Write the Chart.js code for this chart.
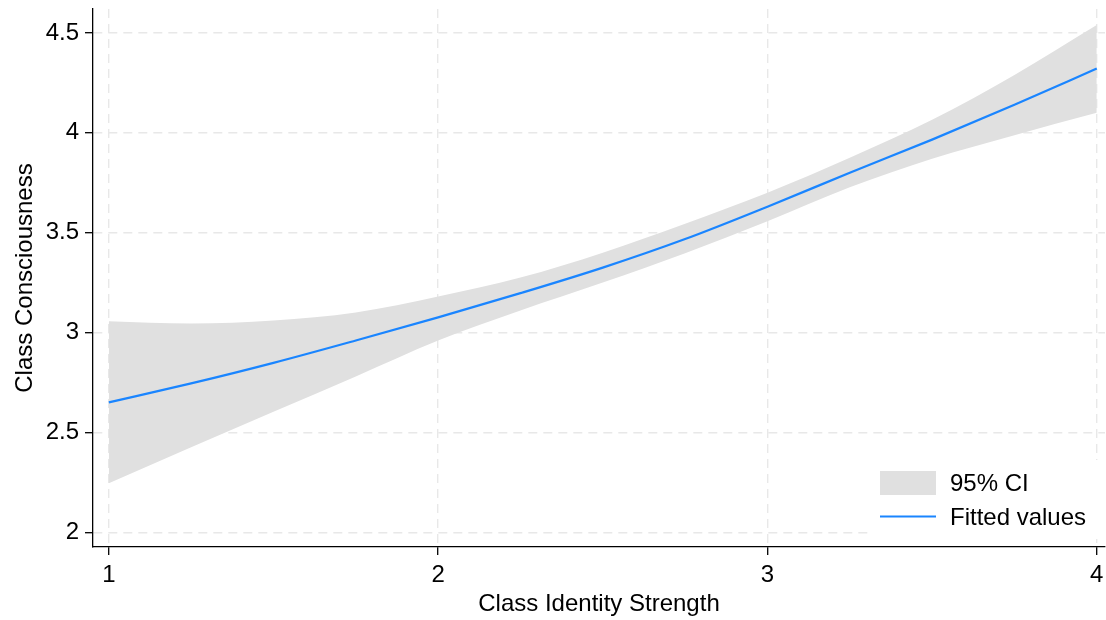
<!DOCTYPE html>
<html>
<head>
<meta charset="utf-8">
<script src="https://cdn.jsdelivr.net/npm/chart.js@4.4.1/dist/chart.umd.min.js"></script>
<style>
  html, body { margin: 0; padding: 0; background: #ffffff; }
  #wrap { width: 1106px; height: 620px; }
</style>
</head>
<body>
<div id="wrap"><canvas id="c" width="1106" height="620"></canvas></div>
<script>
// ---- data ----
const xValues  = [1, 1.25, 1.5, 1.75, 2, 2.25, 2.5, 2.75, 3, 3.25, 3.5, 3.75, 4];
const fitted   = [2.650, 2.745, 2.848, 2.960, 3.076, 3.197, 3.325, 3.468, 3.630, 3.800, 3.966, 4.140, 4.322];
const ciUpper  = [3.056, 3.045, 3.060, 3.100, 3.180, 3.275, 3.400, 3.545, 3.700, 3.875, 4.065, 4.290, 4.540];
const ciLower  = [2.245, 2.425, 2.603, 2.780, 2.960, 3.110, 3.250, 3.397, 3.557, 3.727, 3.870, 3.988, 4.100];
const xTicks = [1, 2, 3, 4];
const xTickLabels = ['1', '2', '3', '4'];
const yTicks = [2, 2.5, 3, 3.5, 4, 4.5];
const yTickLabels = ['2', '2.5', '3', '3.5', '4', '4.5'];
const xTitle = 'Class Identity Strength';
const yTitle = 'Class Consciousness';
const legendLabels = ['95% CI', 'Fitted values'];

// ---- styles ----
const FONT = '"Liberation Sans", Arial, Helvetica, sans-serif';
const bandColor = '#e0e0e0';
const lineColor = '#1a85ff';
const gridColor = '#e8e8e8';

const toPts = arr => xValues.map((x, i) => ({ x: x, y: arr[i] }));

const legendPlugin = {
  id: 'insideLegend',
  afterDatasetsDraw(chart) {
    const ctx = chart.ctx;
    const a = chart.chartArea;
    ctx.save();
    ctx.fillStyle = '#ffffff';
    ctx.fillRect(870, 460, a.right - 870, 79);
    ctx.fillStyle = bandColor;
    ctx.fillRect(880, 471, 56, 24);
    ctx.strokeStyle = lineColor;
    ctx.lineWidth = 2;
    ctx.beginPath();
    ctx.moveTo(880, 516.5);
    ctx.lineTo(936, 516.5);
    ctx.stroke();
    ctx.fillStyle = '#000000';
    ctx.font = '24px ' + FONT;
    ctx.textBaseline = 'middle';
    ctx.textAlign = 'left';
    ctx.fillText(legendLabels[0], 950, 484);
    ctx.fillText(legendLabels[1], 950, 518);
    ctx.restore();
  }
};

const tickFont = { family: FONT, size: 24 };

new Chart(document.getElementById('c'), {
  type: 'line',
  data: {
    datasets: [
      { label: 'upper', data: toPts(ciUpper), borderWidth: 0, pointRadius: 0,
        backgroundColor: bandColor, fill: '+1', cubicInterpolationMode: 'monotone', order: 2 },
      { label: 'lower', data: toPts(ciLower), borderWidth: 0, pointRadius: 0,
        backgroundColor: bandColor, fill: false, cubicInterpolationMode: 'monotone', order: 2 },
      { label: 'fitted', data: toPts(fitted), borderColor: lineColor, borderWidth: 2.2, pointRadius: 0,
        fill: false, cubicInterpolationMode: 'monotone', order: 1 }
    ]
  },
  options: {
    responsive: false,
    animation: false,
    devicePixelRatio: 1,
    layout: { padding: { top: 9, right: 1, bottom: 1, left: 0 } },
    plugins: { legend: { display: false }, tooltip: { enabled: false } },
    scales: {
      x: {
        type: 'linear', min: 0.952, max: 4.025,
        afterBuildTicks: s => { s.ticks = xTicks.map(v => ({ value: v })); },
        afterFit: s => { s.height = 72; s.paddingLeft = 0; s.paddingRight = 0; },
        ticks: { callback: v => xTickLabels[xTicks.indexOf(v)], font: tickFont, color: '#000',
                 padding: 6, maxRotation: 0, autoSkip: false },
        grid: { color: gridColor, lineWidth: 1.4, tickColor: '#000', tickLength: 8, tickWidth: 1.3 },
        border: { display: true, color: '#000', width: 1.3, dash: [9, 6] },
        title: { display: true, text: xTitle, font: tickFont, color: '#000', padding: { top: 0, bottom: 0 } }
      },
      y: {
        type: 'linear', min: 1.926, max: 4.62,
        afterBuildTicks: s => { s.ticks = yTicks.map(v => ({ value: v })); },
        afterFit: s => { s.width = 93; s.paddingTop = 0; s.paddingBottom = 0; },
        ticks: { callback: v => yTickLabels[yTicks.indexOf(v)], font: tickFont, color: '#000',
                 padding: 6, autoSkip: false },
        grid: { color: gridColor, lineWidth: 1.4, tickColor: '#000', tickLength: 8, tickWidth: 1.3 },
        border: { display: true, color: '#000', width: 1.3, dash: [9, 6] },
        title: { display: true, text: yTitle, font: tickFont, color: '#000', padding: { top: 11, bottom: 0 } }
      }
    }
  },
  plugins: [legendPlugin]
});
</script>
</body>
</html>
